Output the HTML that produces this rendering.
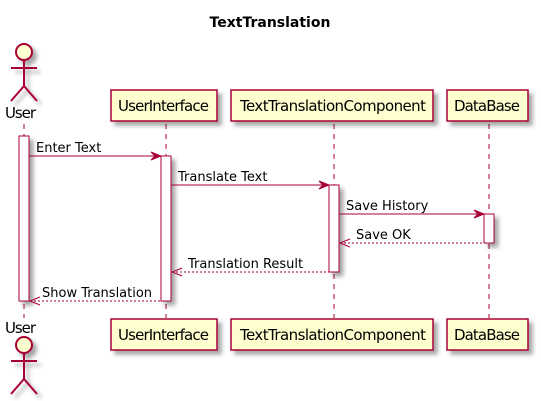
<!DOCTYPE html><html><head><style>body{margin:0;background:#fff}svg{display:block}text{font-family:"DejaVu Sans",sans-serif;font-size:13px;fill:#000}.b{font-size:15px}</style></head><body>
<svg width="541" height="401" viewBox="0 0 541 401" xmlns="http://www.w3.org/2000/svg">
<defs><filter id="s" x="-20%" y="-20%" width="150%" height="150%"><feGaussianBlur in="SourceAlpha" stdDeviation="2"/><feOffset dx="4" dy="4"/><feComponentTransfer><feFuncA type="linear" slope="0.35"/></feComponentTransfer><feMerge><feMergeNode/><feMergeNode in="SourceGraphic"/></feMerge></filter></defs>
<text x="270" y="27" text-anchor="middle" style="font-size:14px;font-weight:bold">TextTranslation</text>
<g stroke="#A80036" stroke-width="1" stroke-dasharray="5,5">
<line x1="24" y1="124" x2="24" y2="318"/><line x1="166" y1="124" x2="166" y2="318"/><line x1="334" y1="124" x2="334" y2="318"/><line x1="489" y1="124" x2="489" y2="318"/></g>
<g fill="#FEFECE" stroke="#A80036" stroke-width="1.5" filter="url(#s)">
<rect x="111" y="90" width="106" height="31"/><rect x="231" y="90" width="202" height="31"/><rect x="447" y="90" width="81" height="31"/>
<rect x="111" y="319" width="106" height="31"/><rect x="231" y="319" width="202" height="31"/><rect x="447" y="319" width="81" height="31"/>
</g>
<g stroke="#A80036" stroke-width="2" fill="none" filter="url(#s)">
<circle cx="24" cy="52" r="8" fill="#FEFECE"/><path d="M24 60V86M11 68H37M24 86L11 101M24 86L37 101"/>
<circle cx="24" cy="345" r="8" fill="#FEFECE"/><path d="M24 353V379M11 361H37M24 379L11 394M24 379L37 394"/>
</g>
<text x="5" y="118" class="b" textLength="31">User</text>
<text x="5" y="333" class="b" textLength="31">User</text>
<text x="118" y="111" class="b" textLength="91">UserInterface</text><text x="240" y="111" class="b" textLength="186">TextTranslationComponent</text><text x="454" y="111" class="b" textLength="66">DataBase</text>
<text x="118" y="340" class="b" textLength="91">UserInterface</text><text x="240" y="340" class="b" textLength="186">TextTranslationComponent</text><text x="454" y="340" class="b" textLength="66">DataBase</text>
<g fill="#fff" stroke="#A80036" stroke-width="1" filter="url(#s)">
<rect x="19" y="136" width="10" height="165"/><rect x="161" y="156" width="10" height="145"/><rect x="329" y="185" width="10" height="87"/><rect x="484" y="214" width="10" height="29"/></g>
<g stroke="#A80036" stroke-width="1" fill="#A80036">
<line x1="29" y1="156" x2="160" y2="156"/><path d="M161 156l-10-4 4 4-4 4z"/>
<line x1="171" y1="185" x2="328" y2="185"/><path d="M329 185l-10-4 4 4-4 4z"/>
<line x1="339" y1="214" x2="483" y2="214"/><path d="M484 214l-10-4 4 4-4 4z"/>
<line x1="340" y1="243" x2="484" y2="243" stroke-dasharray="2,2"/><path d="M350 239l-10 4 10 4" fill="none"/>
<line x1="172" y1="272" x2="329" y2="272" stroke-dasharray="2,2"/><path d="M182 268l-10 4 10 4" fill="none"/>
<line x1="30" y1="301" x2="161" y2="301" stroke-dasharray="2,2"/><path d="M40 297l-10 4 10 4" fill="none"/>
</g>
<text x="36" y="152">Enter Text</text><text x="178" y="181">Translate Text</text><text x="346" y="210">Save History</text><text x="356" y="239">Save OK</text><text x="188" y="268">Translation Result</text><text x="42" y="297">Show Translation</text>
</svg></body></html>
